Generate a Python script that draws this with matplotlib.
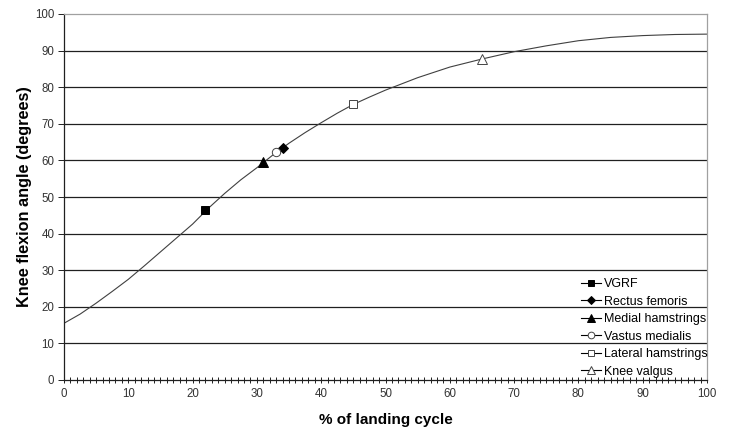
import matplotlib
matplotlib.use("Agg")
import matplotlib.pyplot as plt
from matplotlib.ticker import MultipleLocator

plt.rcParams['font.family'] = ['Liberation Sans', 'DejaVu Sans']

# Knee flexion curve
curve_x = [0, 2.5, 5, 7.5, 10, 12.5, 15, 17.5, 20, 22.5, 25, 27.5, 30, 32.5, 35, 37.5, 40,
           42.5, 45, 47.5, 50, 55, 60, 65, 70, 75, 80, 85, 90, 95, 100]
curve_y = [15.5, 18.0, 21.0, 24.2, 27.5, 31.2, 35.0, 38.8, 42.6, 47.0, 51.0, 54.7, 58.0, 61.5, 64.7, 67.6, 70.3,
           72.9, 75.3, 77.3, 79.2, 82.6, 85.5, 87.7, 89.7, 91.3, 92.7, 93.6, 94.1, 94.4, 94.5]

# Events
event_names = ["VGRF", "Rectus femoris", "Medial hamstrings", "Vastus medialis",
               "Lateral hamstrings", "Knee valgus"]
event_x = [22, 34, 31, 33, 45, 65]
event_y = [46.5, 63.3, 59.5, 62.3, 75.3, 87.7]
event_markers = ["s", "D", "^", "o", "s", "^"]
event_filled = [True, True, True, False, False, False]
event_sizes = [6, 5, 7, 6, 6, 7]

x_ticks = list(range(0, 101, 10))
y_ticks = list(range(0, 101, 10))

fig = plt.figure(figsize=(7.32, 4.32), dpi=100)
ax = fig.add_axes([64/732, 1-380/432, (707-64)/732, (380-14)/432])

for yt in y_ticks[1:-1]:
    ax.axhline(yt, color='#202020', lw=0.9, zorder=1)

ax.plot(curve_x, curve_y, color='#404040', lw=0.8, zorder=2)

for name, x, y, m, f, s in zip(event_names, event_x, event_y, event_markers, event_filled, event_sizes):
    ax.plot([x], [y], marker=m, linestyle='-', color='black', lw=0.8,
            markersize=s, markerfacecolor='black' if f else 'white',
            markeredgecolor='black' if f else '#444444', markeredgewidth=0.7,
            label=name, zorder=3)

ax.set_xlim(0, 100)
ax.set_ylim(0, 100)
ax.set_xticks(x_ticks)
ax.set_yticks(y_ticks)
ax.xaxis.set_minor_locator(MultipleLocator(1))
ax.tick_params(axis='x', which='both', direction='inout', length=5, width=0.7, color='#202020',
               labelsize=8.3, labelcolor='#333333', pad=3)
ax.tick_params(axis='y', which='major', direction='out', length=4, width=0.7, color='#202020',
               labelsize=8.3, labelcolor='#333333', pad=3)
ax.tick_params(axis='x', which='minor', length=5)

for side in ['left', 'bottom']:
    ax.spines[side].set_color('#202020')
    ax.spines[side].set_linewidth(0.9)
for side in ['top', 'right']:
    ax.spines[side].set_color('#a0a0a0')
    ax.spines[side].set_linewidth(0.9)

ax.set_xlabel("% of landing cycle", fontsize=11, fontweight='bold', labelpad=9.5)
ax.set_ylabel("Knee flexion angle (degrees)", fontsize=11.7, fontweight='bold', labelpad=2)

leg = ax.legend(loc='lower right', bbox_to_anchor=(709/732, 1-379/432), bbox_transform=fig.transFigure,
                frameon=False, fontsize=9, markerscale=0.8,
                handlelength=1.6, handletextpad=0.25, labelspacing=0.44, borderaxespad=0.0,
                borderpad=0.1)

fig.savefig("out.png", dpi=100)
